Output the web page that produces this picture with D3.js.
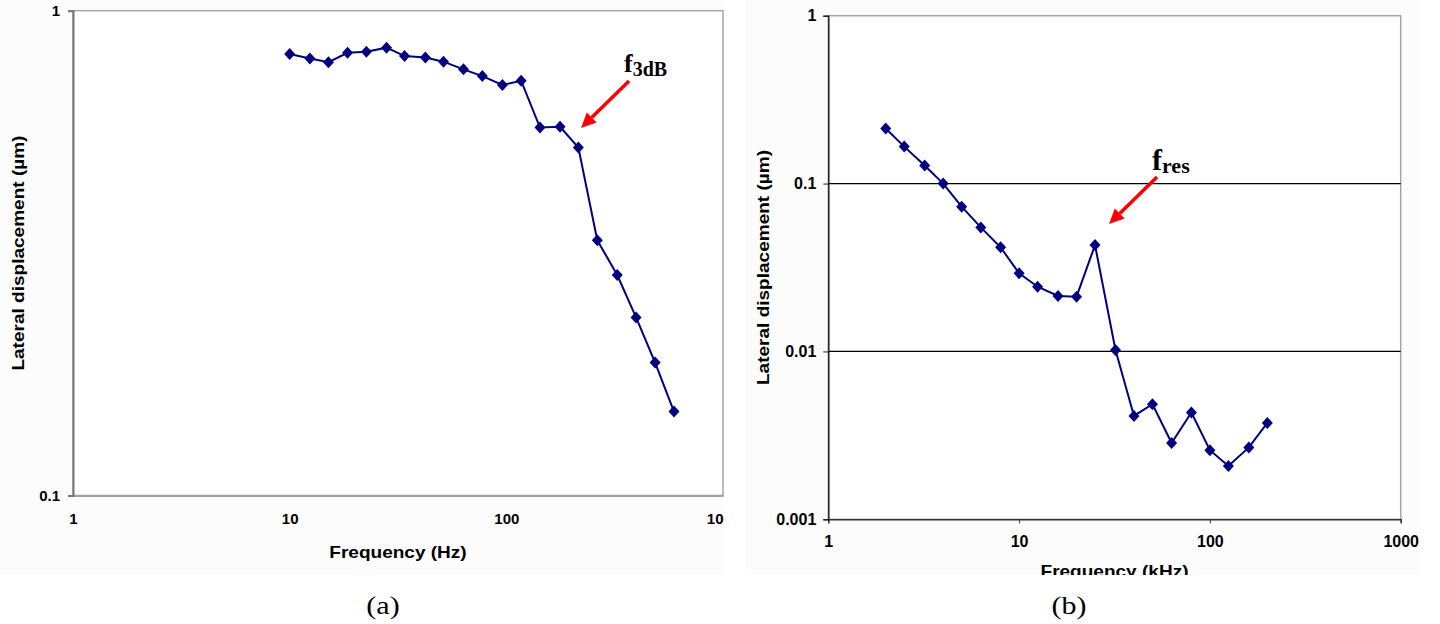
<!DOCTYPE html>
<html>
<head>
<meta charset="utf-8">
<script src="https://cdn.jsdelivr.net/npm/d3@7"></script>
<style>
  html, body { margin: 0; padding: 0; background: #ffffff; }
  svg { display: block; }
  .tick text { font-family: "Liberation Sans", Arial, sans-serif; font-weight: bold; fill: #000; }
</style>
</head>
<body>
<svg id="chart" width="1440" height="624"></svg>
<script>
// (a) low-frequency response, Hz
const freqA = [10, 12.4, 15.1, 18.5, 22.6, 28, 33.9, 42.3, 51.3, 63.4, 77.5, 95.9,
               117, 143, 177, 215, 263, 325, 397, 486, 594];
const dispA = [0.814, 0.797, 0.783, 0.819, 0.823, 0.839, 0.806, 0.801, 0.785, 0.757, 0.733, 0.703,
               0.717, 0.574, 0.576, 0.522, 0.336, 0.285, 0.233, 0.188, 0.149];

// (b) high-frequency response, kHz
const freqB = [2, 2.5, 3.2, 4, 5, 6.3, 8, 10, 12.5, 16, 20, 25, 32, 40, 50, 63, 80, 100, 125, 160, 200];
const dispB = [0.213, 0.166, 0.128, 0.100, 0.0728, 0.0548, 0.0417, 0.0292, 0.0243, 0.0214, 0.0212,
               0.0430, 0.0102, 0.00413, 0.00485, 0.00285, 0.00433, 0.00258, 0.00208, 0.00268, 0.00375];

const xTicksA = [1, 10, 100, 1000];
const yTicksA = [0.1, 1];
const xTicksB = [1, 10, 100, 1000];
const yTicksB = [0.001, 0.01, 0.1, 1];
const gridB = [0.01, 0.1];

const fmt = d => String(d);
const navy = "#000080";
const sans = "Liberation Sans, Arial, sans-serif";
const serif = "Liberation Serif, 'Times New Roman', serif";
const svg = d3.select("#chart");

const defs = svg.append("defs");
defs.append("clipPath").attr("id", "clipA")
  .append("rect").attr("x", 0).attr("y", 0).attr("width", 724).attr("height", 624);
defs.append("clipPath").attr("id", "clipB")
  .append("rect").attr("x", 730).attr("y", 0).attr("width", 710).attr("height", 575);

const diamond = "M0,-6L5.5,0L0,6L-5.5,0Z";

function drawSeries(g, x, y, fx, fy) {
  const pts = fx.map((f, i) => [f, fy[i]]);
  g.append("path")
    .datum(pts)
    .attr("fill", "none")
    .attr("stroke", navy)
    .attr("stroke-width", 2)
    .attr("d", d3.line().x(d => x(d[0])).y(d => y(d[1])));
  g.selectAll("path.mk").data(pts).enter().append("path")
    .attr("class", "mk")
    .attr("d", diamond)
    .attr("fill", navy)
    .attr("transform", d => `translate(${x(d[0])},${y(d[1])})`);
}

function arrow(g, x1, y1, x2, y2) {
  const ang = Math.atan2(y2 - y1, x2 - x1);
  const L = 15, W = 7;
  const bx = x2 - L * Math.cos(ang), by = y2 - L * Math.sin(ang);
  g.append("line")
    .attr("x1", x1).attr("y1", y1).attr("x2", bx).attr("y2", by)
    .attr("stroke", "#ff0000").attr("stroke-width", 3.5);
  const px = -Math.sin(ang) * W, py = Math.cos(ang) * W;
  g.append("path")
    .attr("d", `M${x2},${y2}L${bx + px},${by + py}L${bx - px},${by - py}Z`)
    .attr("fill", "#ff0000");
}

// horizontally widened label text
function label(g, x, y, txt, size, rot) {
  return g.append("text")
    .attr("transform", rot
      ? `translate(${x},${y}) rotate(-90) scale(1.12,1)`
      : `translate(${x},${y}) scale(1.12,1)`)
    .attr("text-anchor", "middle")
    .attr("font-family", sans)
    .attr("font-weight", "bold").attr("font-size", size)
    .text(txt);
}

/* ---------- panel (a) ---------- */
const gA = svg.append("g").attr("clip-path", "url(#clipA)");
gA.append("rect").attr("x", 0).attr("y", 0).attr("width", 724).attr("height", 575).attr("fill", "#fcfcfc");

const xA = d3.scaleLog().domain([1, 1000]).range([73, 723]);
const yA = d3.scaleLog().domain([0.1, 1]).range([495.5, 10.7]);

gA.append("rect")
  .attr("x", xA(1)).attr("y", yA(1))
  .attr("width", xA(1000) - xA(1)).attr("height", yA(0.1) - yA(1))
  .attr("fill", "#ffffff").attr("stroke", "#a6a6a6").attr("stroke-width", 1.5);

const axAx = gA.append("g")
  .attr("transform", `translate(0,${yA(0.1)})`)
  .call(d3.axisBottom(xA).tickValues(xTicksA).tickFormat(fmt).tickSize(0).tickPadding(18));
axAx.select(".domain").attr("stroke", "#a0a0a0").attr("stroke-width", 2);
axAx.selectAll(".tick text").attr("font-size", 15);

const axAy = gA.append("g")
  .attr("transform", `translate(${xA(1)},0)`)
  .call(d3.axisLeft(yA).tickValues(yTicksA).tickFormat(fmt).tickSize(5).tickPadding(8));
axAy.select(".domain").attr("stroke", "#777").attr("stroke-width", 2);
axAy.selectAll(".tick line").attr("stroke", "#777").attr("stroke-width", 1.5);
axAy.selectAll(".tick text").attr("font-size", 15);

drawSeries(gA, xA, yA, freqA, dispA);

label(gA, 398, 558, "Frequency (Hz)", 17, false);
label(gA, 24, (yA(1) + yA(0.1)) / 2, "Lateral displacement (µm)", 17, true);

const tA = gA.append("text")
  .attr("x", 624).attr("y", 72)
  .attr("font-family", serif)
  .attr("font-weight", "bold");
tA.append("tspan").attr("font-size", 26).text("f");
tA.append("tspan").attr("font-size", 20).attr("dy", 4).text("3dB");
arrow(gA, 629, 81, 581, 128);

/* ---------- panel (b) ---------- */
const gB = svg.append("g").attr("clip-path", "url(#clipB)");
gB.append("rect").attr("x", 745).attr("y", 0).attr("width", 675).attr("height", 577).attr("fill", "#fcfcfc");

const xB = d3.scaleLog().domain([1, 1000]).range([828.3, 1400.7]);
const yB = d3.scaleLog().domain([0.001, 1]).range([519.3, 15.7]);

gB.append("rect")
  .attr("x", xB(1)).attr("y", yB(1))
  .attr("width", xB(1000) - xB(1)).attr("height", yB(0.001) - yB(1))
  .attr("fill", "#ffffff").attr("stroke", "#a6a6a6").attr("stroke-width", 1.5);

gB.selectAll("line.grid").data(gridB).enter().append("line")
  .attr("class", "grid")
  .attr("x1", xB(1)).attr("x2", xB(1000))
  .attr("y1", d => yB(d)).attr("y2", d => yB(d))
  .attr("stroke", "#000").attr("stroke-width", 1.2);

const axBx = gB.append("g")
  .attr("transform", `translate(0,${yB(0.001)})`)
  .call(d3.axisBottom(xB).tickValues(xTicksB).tickFormat(fmt).tickSize(4).tickPadding(12));
axBx.select(".domain").attr("stroke", "#333").attr("stroke-width", 1.5);
axBx.selectAll(".tick line").attr("stroke", "#333");
axBx.selectAll(".tick text").attr("font-size", 16);

const axBy = gB.append("g")
  .attr("transform", `translate(${xB(1)},0)`)
  .call(d3.axisLeft(yB).tickValues(yTicksB).tickFormat(fmt).tickSize(5).tickPadding(7));
axBy.select(".domain").attr("stroke", "#222").attr("stroke-width", 1.5);
axBy.selectAll(".tick line").attr("stroke", "#222");
axBy.selectAll(".tick text").attr("font-size", 16);

drawSeries(gB, xB, yB, freqB, dispB);

label(gB, (xB(1) + xB(1000)) / 2, 577, "Frequency (kHz)", 17, false);
label(gB, 769, (yB(1) + yB(0.001)) / 2, "Lateral displacement (µm)", 17, true);

const tB = gB.append("text")
  .attr("x", 1152).attr("y", 170)
  .attr("font-family", serif)
  .attr("font-weight", "bold");
tB.append("tspan").attr("font-size", 30).text("f");
tB.append("tspan").attr("font-size", 22).attr("dy", 3).text("res");
arrow(gB, 1157, 177, 1109, 224);

/* ---------- captions ---------- */
[["(a)", 383], ["(b)", 1069]].forEach(([txt, cx]) => {
  svg.append("text")
    .attr("transform", `translate(${cx},614) scale(1.2,1)`)
    .attr("text-anchor", "middle")
    .attr("font-family", serif)
    .attr("font-size", 25)
    .text(txt);
});
</script>
</body>
</html>
